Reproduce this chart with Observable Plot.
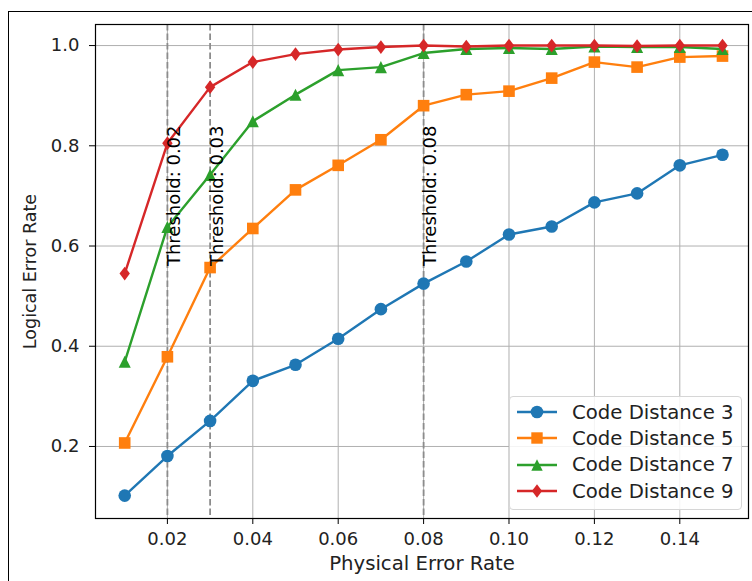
<!DOCTYPE html>
<html><head><meta charset="utf-8">
<script src="https://cdn.jsdelivr.net/npm/d3@7"></script>
<script src="https://cdn.jsdelivr.net/npm/@observablehq/plot@0.6"></script>
<style>
body{margin:0;background:#fff;overflow:hidden;}
#wrap{position:relative;width:752px;height:581px;overflow:hidden;font-family:"DejaVu Sans",sans-serif;background:#fff;}
#border{position:absolute;left:8px;top:11px;width:800px;height:700px;border:1.5px solid #000;box-sizing:border-box;}
#chart{position:absolute;left:0;top:0;}
#legend{position:absolute;left:509px;top:396px;width:233px;height:114px;box-sizing:border-box;border:1px solid #d6d6d6;border-radius:4px;background:rgba(255,255,255,0.85);padding-top:2px;}
.row{display:flex;align-items:center;height:26.3px;}
.row svg{margin-left:6px;flex:none;}
.row span{margin-left:14px;font-size:19.7px;color:#222;white-space:nowrap;}
</style></head><body>
<div id="wrap"><div id="chart"></div><div id="border"></div><div id="legend"></div></div>
<script>
const physicalErrorRates = [0.01,0.02,0.03,0.04,0.05,0.06,0.07,0.08,0.09,0.10,0.11,0.12,0.13,0.14,0.15];
const codeDistances = [3,5,7,9];
const logicalD3 = [0.102,0.181,0.251,0.331,0.363,0.415,0.474,0.525,0.569,0.623,0.639,0.687,0.705,0.761,0.782];
const logicalD5 = [0.207,0.379,0.557,0.635,0.712,0.761,0.812,0.880,0.902,0.909,0.935,0.967,0.957,0.977,0.979];
const logicalD7 = [0.369,0.638,0.742,0.849,0.902,0.951,0.957,0.985,0.993,0.995,0.993,0.998,0.997,0.997,0.993];
const logicalD9 = [0.545,0.805,0.917,0.967,0.983,0.992,0.997,1.000,0.998,1.000,1.000,1.000,0.999,1.000,1.000];
const thresholds = [0.02,0.03,0.08];
const xTicks = [0.02,0.04,0.06,0.08,0.10,0.12,0.14];
const yTicks = [0.2,0.4,0.6,0.8,1.0];
const seriesColors = ["#1f77b4","#ff7f0e","#2ca02c","#d62728"];

const squareSym = {draw(c,s){const h=Math.sqrt(s)*0.52;c.rect(-h,-h,2*h,2*h);}};
const triSym = {draw(c,s){const h=Math.sqrt(s)*0.54;c.moveTo(0,-h);c.lineTo(h,h);c.lineTo(-h,h);c.closePath();}};
const diaSym = {draw(c,s){const h=Math.sqrt(s)*0.62,w=h*0.75;c.moveTo(0,-h);c.lineTo(w,0);c.lineTo(0,h);c.lineTo(-w,0);c.closePath();}};
const seriesSymbols = ["circle",squareSym,triSym,diaSym];
const seriesValues = [logicalD3,logicalD5,logicalD7,logicalD9];
const seriesNames = codeDistances.map(d=>`Code Distance ${d}`);

const series = seriesValues.map((vals,i)=>physicalErrorRates.map((x,j)=>({x,y:vals[j],name:seriesNames[i]})));

const FS = 18;
const marks = [
  Plot.gridX(xTicks,{stroke:"#b0b0b0",strokeOpacity:1,strokeWidth:1}),
  Plot.gridY(yTicks,{stroke:"#b0b0b0",strokeOpacity:1,strokeWidth:1}),
  Plot.ruleX(thresholds,{stroke:"#8c8c8c",strokeWidth:1.8,strokeDasharray:"6.5,3"}),
];
series.forEach((rows,i)=>{
  marks.push(Plot.line(rows,{x:"x",y:"y",stroke:seriesColors[i],strokeWidth:2.4}));
  marks.push(Plot.dot(rows,{x:"x",y:"y",fill:seriesColors[i],symbol:seriesSymbols[i],r:6.3,stroke:"none"}));
});
marks.push(
  Plot.text(thresholds,{x:d=>d,y:()=>0.56,text:d=>`Threshold: ${d}`,rotate:-90,textAnchor:"start",lineAnchor:"top",fill:"#000",fontSize:FS}),
  Plot.frame({stroke:"#000",strokeWidth:1.2}),
  Plot.axisX(xTicks,{tickFormat:d3.format(".2f"),tickSize:6,tickPadding:8,fontSize:FS,label:null,stroke:"#000",fill:"#222"}),
  Plot.axisY(yTicks,{tickFormat:d3.format(".1f"),tickSize:6,tickPadding:10,fontSize:FS,label:null,stroke:"#000",fill:"#222"}),
  Plot.text(["Physical Error Rate"],{text:d=>d,frameAnchor:"bottom",textAnchor:"middle",lineAnchor:"middle",dy:45,fontSize:19.7,fill:"#222"}),
  Plot.text(["Logical Error Rate"],{text:d=>d,frameAnchor:"left",textAnchor:"middle",lineAnchor:"middle",rotate:-90,dx:-65,fontSize:17.5,fill:"#222"})
);

const chart = Plot.plot({
  width:752,height:581,marginLeft:95,marginTop:24,marginRight:4,marginBottom:63,
  style:{fontFamily:"DejaVu Sans",fontSize:FS+"px",background:"transparent",color:"#222"},
  x:{domain:[0.00316,0.15609]},
  y:{domain:[0.0563,1.042]},
  marks
});
document.getElementById("chart").appendChild(chart);

// legend
const legend = document.getElementById("legend");
const symbolPaths = [
  '<circle cx="21" cy="10" r="6.3"/>',
  '<rect x="15.3" y="4.3" width="11.4" height="11.4"/>',
  '<path d="M21,4.3L26.7,15.7L15.3,15.7Z"/>',
  '<path d="M21,3.2L26.1,10L21,16.8L15.9,10Z"/>'
];
seriesNames.forEach((name,i)=>{
  const row=document.createElement("div");row.className="row";
  row.innerHTML=`<svg width="42" height="20"><line x1="1" y1="10" x2="41" y2="10" stroke="${seriesColors[i]}" stroke-width="2.4"/><g fill="${seriesColors[i]}">${symbolPaths[i]}</g></svg><span>${name}</span>`;
  legend.appendChild(row);
});
</script>
</body></html>
